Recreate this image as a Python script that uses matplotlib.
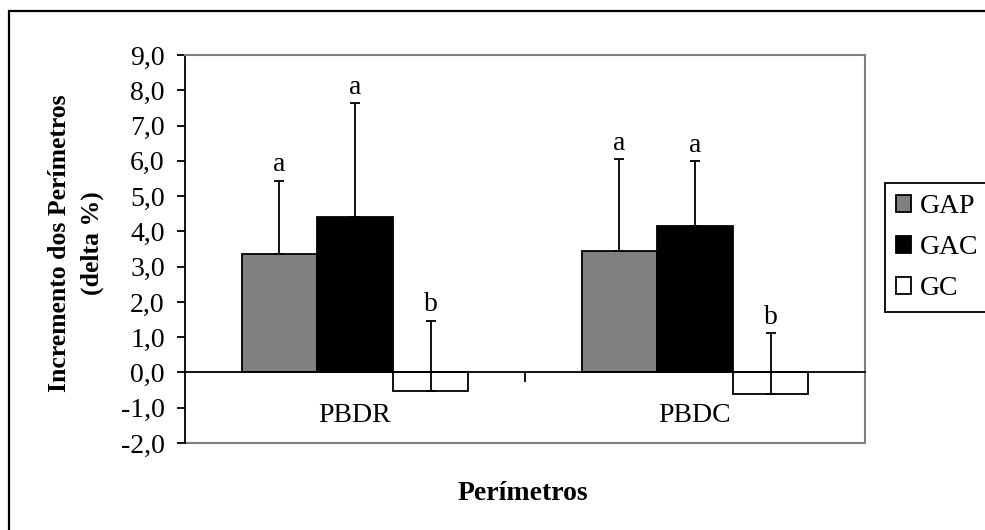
import numpy as np
import matplotlib.pyplot as plt
from matplotlib.patches import Rectangle

categories = ['PBDR', 'PBDC']
groups = ['GAP', 'GAC', 'GC']
means = {
    'GAP': [3.35, 3.44],
    'GAC': [4.42, 4.15],
    'GC': [-0.52, -0.61],
}
errors = {
    'GAP': [2.08, 2.60],
    'GAC': [3.21, 1.84],
    'GC': [1.98, 1.72],
}
letters = {
    'GAP': ['a', 'a'],
    'GAC': ['a', 'a'],
    'GC': ['b', 'b'],
}
colors = {'GAP': '#808080', 'GAC': '#000000', 'GC': '#ffffff'}
yticks = np.arange(-2, 10, 1)

plt.rcParams['font.family'] = ['Liberation Serif', 'DejaVu Serif']

fig = plt.figure(figsize=(9.85, 5.30), dpi=100)
W, H = 985, 530
ax = fig.add_axes([185 / W, 87 / H, 680 / W, 388 / H])

# outer chart border (only left/top visible in the image)
fig.patches.append(Rectangle((8.5 / W, -0.1), 1.2, 0.1 + (1 - 11 / H),
                             transform=fig.transFigure, fill=False,
                             edgecolor='black', linewidth=1.6))

x = np.arange(len(categories))
w = 1 / 4.5
for i, g in enumerate(groups):
    pos = x + (i - 1) * w
    ax.bar(pos, means[g], width=w, color=colors[g], edgecolor='black',
           linewidth=1.3, label=g, zorder=2)
    yerr = [np.zeros(len(categories)), errors[g]]
    ax.errorbar(pos, means[g], yerr=yerr, fmt='none', ecolor='black',
                elinewidth=1.3, capsize=3.8, capthick=1.3, zorder=3)
    for p, m, e, t in zip(pos, means[g], errors[g], letters[g]):
        ax.annotate(t, (p, m + e), xytext=(0, 2.5), textcoords='offset points',
                    ha='center', va='bottom', fontsize=20)

ax.set_xlim(-0.5, 1.5)
ax.set_ylim(-2, 9)
ax.set_yticks(yticks)
ax.set_yticklabels([f'{v:.1f}'.replace('.', ',') for v in yticks], fontsize=20)
ax.tick_params(axis='y', direction='out', length=6, width=1.3, pad=8.5)

ax.spines['bottom'].set_position(('data', 0))
ax.spines['bottom'].set_linewidth(1.3)
ax.spines['left'].set_linewidth(1.3)
for s in ['top', 'right']:
    ax.spines[s].set_color('#808080')
    ax.spines[s].set_linewidth(1.5)
ax.axhline(-2, color='#808080', linewidth=1.5, clip_on=False, zorder=1)

ax.set_xticks(x)
ax.set_xticklabels(categories, fontsize=20)
ax.tick_params(axis='x', which='major', length=0, pad=22)
ax.set_xticks([0.5, 1.5], minor=True)
ax.tick_params(axis='x', which='minor', direction='out', length=7, width=1.3)

fig.text(76 / W, 1 - 243 / H, 'Incremento dos Perímetros\n(delta %)',
         rotation=90, ha='center', va='center', fontsize=18.5,
         fontweight='bold', linespacing=1.5)
fig.text(523 / W, 1 - 493 / H, 'Perímetros', ha='center', va='center',
         fontsize=20, fontweight='bold')

leg = fig.legend(loc='upper left', bbox_to_anchor=(885 / W, 1 - 183 / H),
                 fontsize=20, frameon=True, fancybox=False, framealpha=1,
                 edgecolor='black', handlelength=0.55, handleheight=0.55,
                 handletextpad=0.32, labelspacing=0.58, borderpad=0.4,
                 borderaxespad=0)
leg.get_frame().set_linewidth(1.3)

fig.savefig('out.png', dpi=100)
